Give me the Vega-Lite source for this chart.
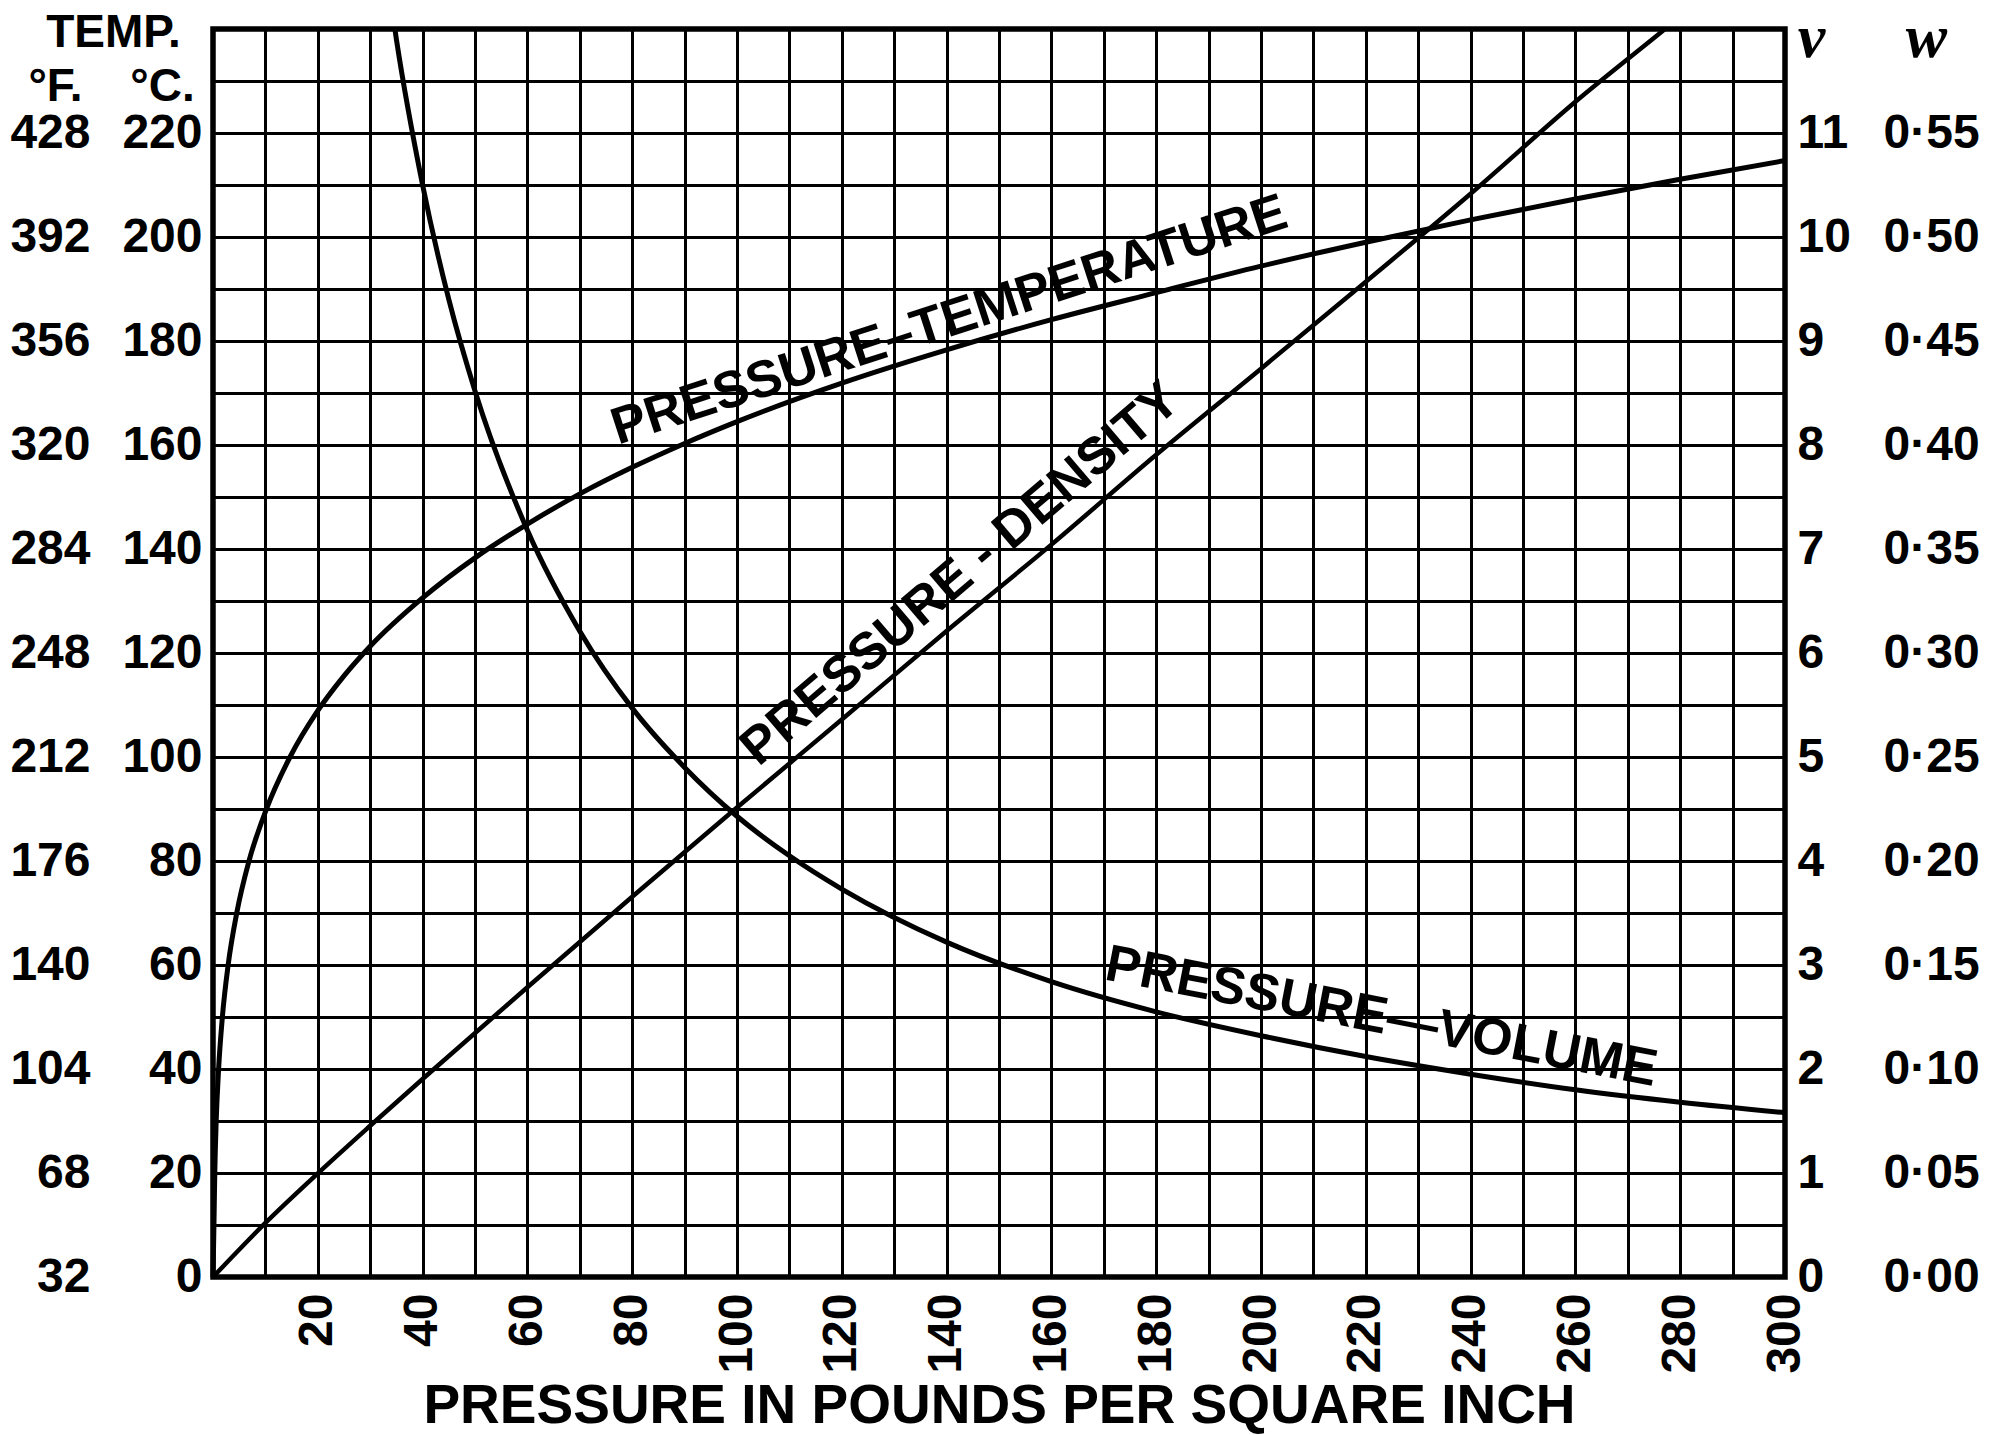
{
  "$schema": "https://vega.github.io/schema/vega-lite/v6.json",
  "width": 1572,
  "height": 1248,
  "autosize": {"type": "none"},
  "padding": {"left": 213, "top": 29, "right": 215, "bottom": 158},
  "background": "white",
  "config": {
    "view": {"stroke": "black", "strokeWidth": 5.5},
    "axis": {
      "labelFont": "Liberation Sans",
      "labelFontWeight": "bold",
      "labelFontSize": 48,
      "labelColor": "black",
      "labelOverlap": false,
      "titleFont": "Liberation Sans",
      "titleFontWeight": "bold",
      "titleColor": "black",
      "ticks": false,
      "domain": false,
      "grid": false,
      "gridColor": "black",
      "gridWidth": 3,
      "gridOpacity": 1
    },
    "text": {"font": "Liberation Sans", "fontWeight": "bold", "fontSize": 52, "color": "black", "align": "center", "baseline": "middle"}
  },
  "datasets": {
    "temperature": [
      {"p": 0, "t": 0}, {"p": 0.18, "t": 10}, {"p": 0.34, "t": 20}, {"p": 0.61, "t": 30},
      {"p": 1.07, "t": 40}, {"p": 1.79, "t": 50}, {"p": 2.89, "t": 60}, {"p": 4.53, "t": 70},
      {"p": 6.87, "t": 80}, {"p": 10.2, "t": 90}, {"p": 14.7, "t": 100}, {"p": 20, "t": 108.9},
      {"p": 25, "t": 115.6}, {"p": 30, "t": 121.3}, {"p": 40, "t": 130.6}, {"p": 50, "t": 138.3},
      {"p": 60, "t": 144.8}, {"p": 70, "t": 150.6}, {"p": 80, "t": 155.7}, {"p": 90, "t": 160.3},
      {"p": 100, "t": 164.5}, {"p": 120, "t": 171.9}, {"p": 140, "t": 178.3}, {"p": 160, "t": 184.1},
      {"p": 180, "t": 189.3}, {"p": 200, "t": 194.4}, {"p": 220, "t": 199.0}, {"p": 240, "t": 203.3},
      {"p": 260, "t": 207.3}, {"p": 280, "t": 211.1}, {"p": 300, "t": 214.7}
    ],
    "volume": [
      {"p": 33, "v": 12.6}, {"p": 35, "v": 11.9}, {"p": 40, "v": 10.5}, {"p": 45, "v": 9.4},
      {"p": 50, "v": 8.52}, {"p": 60, "v": 7.18}, {"p": 70, "v": 6.21}, {"p": 80, "v": 5.47},
      {"p": 90, "v": 4.9}, {"p": 100, "v": 4.43}, {"p": 110, "v": 4.05}, {"p": 120, "v": 3.73},
      {"p": 140, "v": 3.22}, {"p": 160, "v": 2.84}, {"p": 180, "v": 2.55}, {"p": 200, "v": 2.32},
      {"p": 220, "v": 2.12}, {"p": 240, "v": 1.95}, {"p": 260, "v": 1.8}, {"p": 280, "v": 1.68},
      {"p": 300, "v": 1.58}
    ],
    "density": [
      {"p": 0, "w": 0}, {"p": 10, "w": 0.026}, {"p": 20, "w": 0.0498}, {"p": 30, "w": 0.0727},
      {"p": 40, "w": 0.0952}, {"p": 60, "w": 0.1393}, {"p": 80, "w": 0.1828}, {"p": 100, "w": 0.2257},
      {"p": 120, "w": 0.268}, {"p": 140, "w": 0.3106}, {"p": 160, "w": 0.3521}, {"p": 180, "w": 0.3953},
      {"p": 200, "w": 0.4367}, {"p": 220, "w": 0.4785}, {"p": 240, "w": 0.5208}, {"p": 260, "w": 0.565},
      {"p": 280, "w": 0.606}, {"p": 300, "w": 0.649}
    ],
    "labels": [
      {"curve": "temperature", "text": "PRESSURE–TEMPERATURE", "p": 140.5, "value": 184},
      {"curve": "density", "text": "PRESSURE - DENSITY", "p": 142.6, "value": 0.338},
      {"curve": "volume", "text": "PRESSURE—VOLUME", "p": 223, "value": 2.5}
    ]
  },
  "encoding": {
    "x": {
      "field": "p", "type": "quantitative",
      "scale": {"domain": [0, 300], "nice": false},
      "axis": {
        "values": [0,10,20,30,40,50,60,70,80,90,100,110,120,130,140,150,160,170,180,190,200,210,220,230,240,250,260,270,280,290,300],
        "grid": true,
        "labelExpr": "datum.value % 20 == 0 && datum.value > 0 ? datum.label : ''",
        "labelAngle": -90,
        "labelPadding": 16,
        "labelFlush": false,
        "labelFontSize": 48,
        "title": "PRESSURE IN POUNDS PER SQUARE INCH",
        "titleFontSize": 55,
        "titleY": 157,
        "titleBaseline": "bottom"
      }
    }
  },
  "layer": [
    {
      "data": {"name": "temperature"},
      "mark": {"type": "line", "color": "black", "strokeWidth": 5, "interpolate": "monotone"},
      "encoding": {
        "y": {
          "field": "t", "type": "quantitative",
          "scale": {"domain": [0, 240], "nice": false},
          "axis": {
            "orient": "left",
            "values": [0,10,20,30,40,50,60,70,80,90,100,110,120,130,140,150,160,170,180,190,200,210,220,230,240],
            "grid": true,
            "labelExpr": "datum.value % 20 == 0 && datum.value <= 220 ? datum.label : ''",
            "labelPadding": 11,
            "title": "°C.",
            "titleAngle": 0,
            "titleX": -51,
            "titleY": 71,
            "titleAlign": "center",
            "titleBaseline": "alphabetic",
            "titleFontSize": 46
          }
        }
      }
    },
    {
      "data": {"name": "labels"},
      "transform": [{"filter": "datum.curve == 'temperature'"}],
      "mark": {"type": "text", "angle": -18},
      "encoding": {
        "y": {
          "field": "value", "type": "quantitative",
          "scale": {"domain": [0, 240], "nice": false},
          "axis": {
            "orient": "left",
            "offset": 113,
            "values": [0,20,40,60,80,100,120,140,160,180,200,220],
            "labelExpr": "format(datum.value * 1.8 + 32, 'd')",
            "labelPadding": 10,
            "title": "°F.",
            "titleAngle": 0,
            "titleX": -45,
            "titleY": 71,
            "titleAlign": "center",
            "titleBaseline": "alphabetic",
            "titleFontSize": 46
          }
        },
        "text": {"field": "text"}
      }
    },
    {
      "data": {"name": "volume"},
      "mark": {"type": "line", "color": "black", "strokeWidth": 5, "interpolate": "monotone", "clip": true},
      "encoding": {
        "y": {
          "field": "v", "type": "quantitative",
          "scale": {"domain": [0, 12], "nice": false},
          "axis": {
            "orient": "right",
            "values": [0,1,2,3,4,5,6,7,8,9,10,11],
            "labelPadding": 12,
            "title": "v",
            "titleFont": "Liberation Serif",
            "titleFontStyle": "italic",
            "titleFontWeight": "bold",
            "titleFontSize": 62,
            "titleAngle": 0,
            "titleX": 26,
            "titleY": 27,
            "titleAlign": "center",
            "titleBaseline": "alphabetic"
          }
        }
      }
    },
    {
      "data": {"name": "labels"},
      "transform": [{"filter": "datum.curve == 'volume'"}],
      "mark": {"type": "text", "angle": 11},
      "encoding": {
        "y": {"field": "value", "type": "quantitative", "scale": {"domain": [0, 12], "nice": false}, "axis": null},
        "text": {"field": "text"}
      }
    },
    {
      "data": {"name": "density"},
      "mark": {"type": "line", "color": "black", "strokeWidth": 4.5, "interpolate": "monotone", "clip": true},
      "encoding": {
        "y": {
          "field": "w", "type": "quantitative",
          "scale": {"domain": [0, 0.6], "nice": false},
          "axis": {
            "orient": "right",
            "offset": 88,
            "values": [0,0.05,0.1,0.15,0.2,0.25,0.3,0.35,0.4,0.45,0.5,0.55],
            "labelExpr": "replace(format(datum.value, '.2f'), '.', '·')",
            "labelPadding": 10,
            "title": "w",
            "titleFont": "Liberation Serif",
            "titleFontStyle": "italic",
            "titleFontWeight": "bold",
            "titleFontSize": 62,
            "titleAngle": 0,
            "titleX": 53,
            "titleY": 27,
            "titleAlign": "center",
            "titleBaseline": "alphabetic"
          }
        }
      }
    },
    {
      "data": {"name": "labels"},
      "transform": [{"filter": "datum.curve == 'density'"}],
      "mark": {"type": "text", "angle": -40.5},
      "encoding": {
        "y": {
          "field": "value", "type": "quantitative",
          "scale": {"domain": [0, 0.6], "nice": false},
          "axis": {
            "orient": "left",
            "labels": false,
            "values": [0],
            "title": "TEMP.",
            "titleAngle": 0,
            "titleX": -100,
            "titleY": 17,
            "titleAlign": "center",
            "titleBaseline": "alphabetic",
            "titleFontSize": 46
          }
        },
        "text": {"field": "text"}
      }
    }
  ],
  "resolve": {"scale": {"y": "independent"}}
}
